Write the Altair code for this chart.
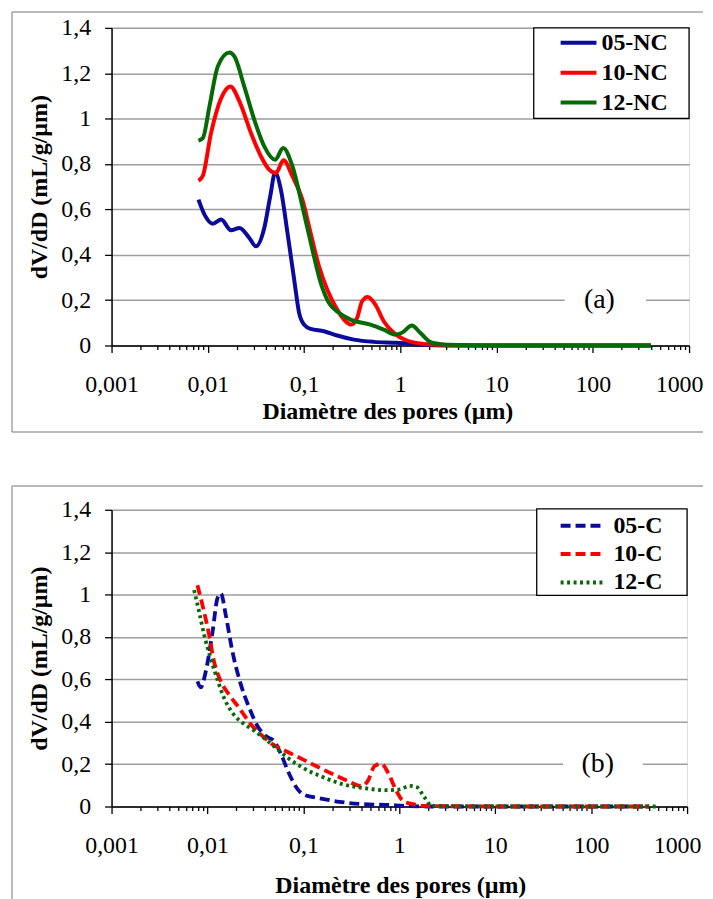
import altair as alt
import pandas as pd

# ---------------- data ----------------
series_nc = ["05-NC", "10-NC", "12-NC"]
series_c = ["05-C", "10-C", "12-C"]
colors = ["#0A0A9E", "#FF0000", "#056A05"]

nc05_d = [0.0080, 0.00924, 0.01127, 0.01375, 0.0174, 0.0213, 0.027, 0.0316, 0.0386, 0.0445, 0.0501, 0.0574,
          0.0673, 0.0789, 0.0888, 0.100, 0.117, 0.161, 0.221, 0.329, 0.53, 0.92, 1.61, 3.0, 10, 50, 400]
nc05_v = [0.643, 0.577, 0.537, 0.555, 0.508, 0.518, 0.474, 0.437, 0.518, 0.657, 0.763, 0.687,
          0.496, 0.291, 0.144, 0.092, 0.073, 0.063, 0.044, 0.026, 0.016, 0.012, 0.004, 0, 0, 0, 0]

nc10_d = [0.0080, 0.00888, 0.0108, 0.01375, 0.01715, 0.0213, 0.0281, 0.0356, 0.0434, 0.0509, 0.0611, 0.0757,
          0.0961, 0.117, 0.143, 0.174, 0.221, 0.27, 0.309, 0.356, 0.401, 0.459, 0.551, 0.673, 0.853, 1.17,
          1.61, 2.39, 5, 20, 100, 400]
nc10_v = [0.726, 0.748, 0.936, 1.09, 1.142, 1.076, 0.936, 0.834, 0.775, 0.760, 0.816, 0.746,
          0.643, 0.496, 0.349, 0.247, 0.158, 0.107, 0.092, 0.122, 0.195, 0.214, 0.180, 0.107, 0.056, 0.022,
          0.009, 0.003, 0, 0, 0, 0]

nc12_d = [0.0080, 0.00888, 0.0104, 0.0127, 0.01675, 0.0189, 0.0239, 0.0304, 0.0386, 0.0501, 0.0607, 0.0757,
          0.0961, 0.122, 0.149, 0.181, 0.23, 0.304, 0.49, 0.673, 0.887, 1.04, 1.32, 1.61, 2.13, 3.04, 10, 50, 400]
nc12_v = [0.903, 0.914, 1.054, 1.23, 1.291, 1.274, 1.142, 0.995, 0.878, 0.819, 0.870, 0.790,
          0.613, 0.423, 0.276, 0.188, 0.144, 0.114, 0.092, 0.070, 0.048, 0.056, 0.088, 0.056, 0.012, 0.003, 0, 0, 0]

c05_d = [0.00786, 0.0085, 0.0096, 0.0113, 0.0127, 0.0138, 0.0155, 0.0182, 0.0223, 0.0273, 0.0333, 0.0407,
         0.0497, 0.0585, 0.0714, 0.0873, 0.102, 0.147, 0.238, 0.417, 0.73, 1.18, 2.0, 10, 100, 400]
c05_v = [0.590, 0.562, 0.637, 0.825, 0.982, 1.005, 0.904, 0.731, 0.575, 0.465, 0.379, 0.332,
         0.308, 0.246, 0.152, 0.081, 0.055, 0.039, 0.022, 0.011, 0.008, 0.003, 0, 0, 0, 0]

c10_d = [0.00786, 0.00887, 0.0104, 0.0117, 0.0138, 0.0168, 0.0214, 0.0284, 0.0376, 0.0478, 0.0608, 0.0838,
         0.125, 0.187, 0.279, 0.401, 0.470, 0.552, 0.648, 0.762, 0.931, 1.09, 1.39, 1.92, 10, 100, 400]
c10_v = [1.044, 0.950, 0.810, 0.684, 0.590, 0.528, 0.465, 0.387, 0.332, 0.293, 0.269, 0.238,
         0.199, 0.160, 0.124, 0.097, 0.121, 0.191, 0.202, 0.160, 0.074, 0.027, 0.011, 0.003, 0, 0, 0]

c12_d = [0.00726, 0.00818, 0.00923, 0.0108, 0.0127, 0.0149, 0.0182, 0.0232, 0.0295, 0.0407, 0.054, 0.0686,
         0.0984, 0.159, 0.258, 0.452, 0.731, 1.01, 1.28, 1.51, 1.84, 2.16, 10, 100, 500]
c12_v = [1.021, 0.919, 0.810, 0.700, 0.598, 0.512, 0.442, 0.395, 0.363, 0.316, 0.269, 0.230,
         0.183, 0.139, 0.105, 0.085, 0.077, 0.081, 0.097, 0.092, 0.042, 0.003, 0, 0, 0]

x_major = [0.001, 0.01, 0.1, 1, 10, 100, 1000]
x_major_labels = ["0,001", "0,01", "0,1", "1", "10", "100", "1000"]
y_ticks = [0, 0.2, 0.4, 0.6, 0.8, 1, 1.2, 1.4]

FONT = "Liberation Serif"


def long_df(names, ds, vs):
    rows = []
    for n, d, v in zip(names, ds, vs):
        for i, (a, b) in enumerate(zip(d, v)):
            rows.append({"series": n, "D": a, "V": b, "i": i})
    return pd.DataFrame(rows)


df_nc = long_df(series_nc, [nc05_d, nc10_d, nc12_d], [nc05_v, nc10_v, nc12_v])
df_c = long_df(series_c, [c05_d, c10_d, c12_d], [c05_v, c10_v, c12_v])

minor = [m * 10.0 ** k for k in range(-3, 3) for m in range(2, 10)]
x_values = sorted(x_major + minor)

lbl_expr = "''"
for v, l in zip(reversed(x_major), reversed(x_major_labels)):
    lbl_expr = f"datum.value == {v} ? '{l}' : ({lbl_expr})"
major_test = " || ".join(f"datum.value == {v}" for v in x_major)


def x_enc(title_pad, title_x):
    return alt.X(
        "D:Q",
        scale=alt.Scale(type="log", domain=[0.001, 1000]),
        axis=alt.Axis(
            values=x_values, labelExpr=lbl_expr, title="Diamètre des pores (µm)",
            labelFont=FONT, labelFontSize=24, labelColor="black", labelFlush=False,
            labelOverlap=False, labelPadding=20,
            labelOffset={"condition": {"test": "datum.value == 1000", "value": -10}, "value": 0},
            tickSize={"condition": {"test": major_test, "value": 7}, "value": 4},
            tickColor="black", tickWidth=1.3, domainColor="black", domainWidth=1.5,
            grid=False, titleFont=FONT, titleFontSize=24, titleFontWeight="bold",
            titleColor="black", titlePadding=title_pad, titleX=title_x,
        ),
    )


y_enc = alt.Y(
    "V:Q",
    scale=alt.Scale(domain=[0, 1.4]),
    axis=alt.Axis(
        values=y_ticks, labelExpr="replace(format(datum.value, '~g'), '.', ',')",
        title="dV/dD (mL/g/µm)", labelFont=FONT, labelFontSize=24, labelColor="black",
        labelPadding=14, tickSize=7, tickColor="black", tickWidth=1.3,
        domainColor="black", domainWidth=1.5, gridColor="#9e9e9e", gridWidth=1.5,
        titleFont=FONT, titleFontSize=24, titleFontWeight="bold", titleColor="black",
        titlePadding=9,
    ),
)

one = pd.DataFrame({"k": [0]})


def outer_frame(x0, x1, y0, y1, color="#a3a3a3", width=1.5):
    base = alt.Chart(one).mark_rule(stroke=color, strokeWidth=width)
    top_l = base.encode(x=alt.value(x0), x2=alt.value(x1), y=alt.value(y0))
    left_l = base.encode(x=alt.value(x0), y=alt.value(y0), y2=alt.value(y1))
    bot_l = base.encode(x=alt.value(x0), x2=alt.value(x1), y=alt.value(y1))
    return top_l + left_l + bot_l


def box(x0, x1, y0, y1):
    return alt.Chart(one).mark_rect(fill="white", stroke="black", strokeWidth=1.3).encode(
        x=alt.value(x0), x2=alt.value(x1), y=alt.value(y0), y2=alt.value(y1)
    )


def label_box(text, xd, yv, x0, x1, y0, y1):
    d = pd.DataFrame({"t": [text], "x": [xd], "y": [yv], "x0": [x0], "x1": [x1], "y0": [y0], "y1": [y1]})
    b = alt.Chart(d).mark_rect(fill="white").encode(
        x="x0:Q", x2="x1:Q", y="y0:Q", y2="y1:Q")
    txt = alt.Chart(d).mark_text(font=FONT, fontSize=28, color="black", baseline="middle").encode(
        x="x:Q", y="y:Q", text="t:N")
    return b + txt


def legend(lx, ly, size, row_pad, offset):
    return alt.Legend(
        title=None, orient="none", legendX=lx, legendY=ly, padding=0,
        labelFont=FONT, labelFontSize=24, labelFontWeight="bold", labelColor="black",
        symbolType="stroke", symbolSize=size, symbolStrokeWidth=4, clipHeight=24,
        rowPadding=row_pad, labelOffset=offset,
    )


# ---------------- top panel ----------------
W1, H1 = 580, 319
top_lines = alt.Chart(df_nc).mark_line(interpolate="monotone", strokeWidth=4).encode(
    x=x_enc(3, 277), y=y_enc,
    color=alt.Color("series:N", scale=alt.Scale(domain=series_nc, range=colors),
                    legend=legend(449, 3, 1296, 6, 3)),
    order="i:Q",
)
top = alt.layer(
    outer_frame(-100, 594, -16, 406),
    label_box("(a)", 117, 0.2, 51, 357, 0.13, 0.27),
    top_lines,
    box(424, 580, 0, 91),
).properties(width=W1, height=H1)

# ---------------- bottom panel ----------------
W2, H2 = 578, 298
leg_c = legend(449, 4, 1849, 4.5, 8)
bot_lines = alt.Chart(df_c).mark_line(interpolate="monotone", strokeWidth=3.8, strokeCap="butt").encode(
    x=x_enc(16, 290), y=y_enc,
    color=alt.Color("series:N", scale=alt.Scale(domain=series_c, range=colors), legend=leg_c),
    strokeDash=alt.StrokeDash("series:N",
                              scale=alt.Scale(domain=series_c, range=[[10, 5], [10, 5], [3, 3.5]]),
                              legend=leg_c),
    order="i:Q",
)
bot = alt.layer(
    outer_frame(-100, 594, -24, 400),
    label_box("(b)", 117, 0.2, 51, 345, 0.14, 0.26),
    bot_lines,
    box(427, 578, -1, 86),
).properties(width=W2, height=H2)

chart = alt.vconcat(top, bot, spacing=50).resolve_scale(
    color="independent", strokeDash="independent"
).resolve_legend(color="independent", strokeDash="independent").properties(
    padding={"left": 2, "top": 0, "right": 0, "bottom": 0}
).configure_view(stroke="black", strokeWidth=1.5).configure(background="white")

chart.save("out.html", embed_options={"renderer": "svg", "actions": False})
